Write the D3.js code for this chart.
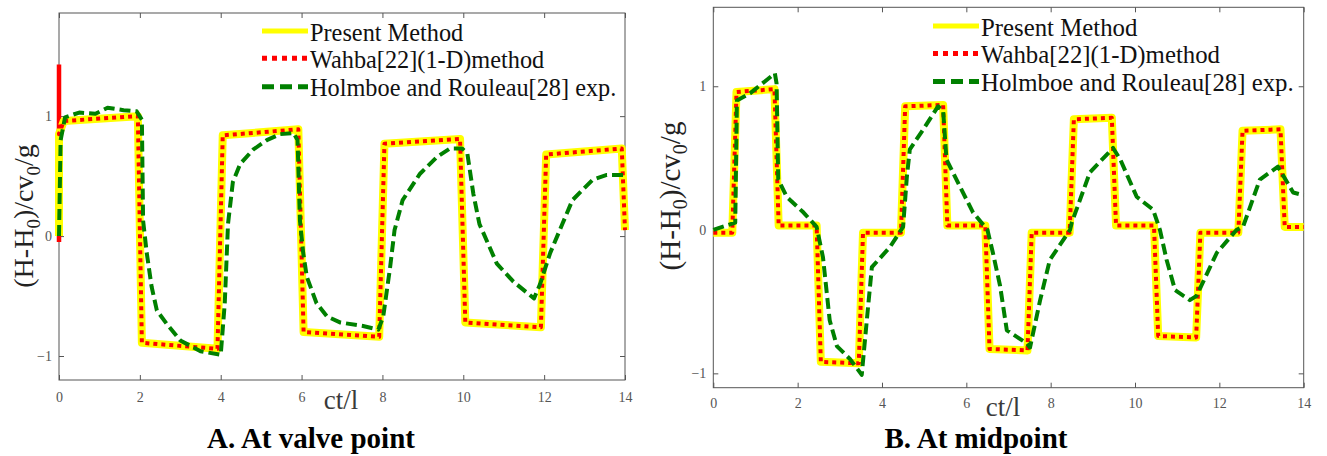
<!DOCTYPE html>
<html>
<head>
<meta charset="utf-8">
<script src="https://cdn.jsdelivr.net/npm/d3@7"></script>
<style>
  html, body { margin: 0; padding: 0; background: #fff; }
  svg { display: block; font-family: "Liberation Serif", "Times New Roman", serif; }
</style>
</head>
<body>
<svg id="chart" width="1327" height="456"></svg>
<script>
// ---- data: dimensionless head (H-H0)/(c v0/g) against time ct/l ----
const xTickValues = [0, 2, 4, 6, 8, 10, 12, 14];
const yTickValues = [-1, 0, 1];
const seriesNames = ["Present Method", "Wahba[22](1-D)method", "Holmboe and Rouleau[28] exp."];
const panelTitles = ["A. At valve point", "B. At midpoint"];

// At valve point
const valvePresent = [[0,0],[0,0.85],[0.12,0.96],[1.95,1.0],[2.05,-0.89],[3.92,-0.94],[4.05,0.84],[5.92,0.89],
  [6.05,-0.8],[7.92,-0.84],[8.05,0.77],[9.92,0.81],[10.05,-0.72],[11.92,-0.76],[12.05,0.68],[13.92,0.73],[14,0.05]];
// initial pressure spike of the 1-D solution at the closing valve
const valveWahbaSpike = [[0,-0.05],[0,1.43],[0,0.93]];
const valveWahba = [[0,0.93],[0,0.85],[0.12,0.96],[1.95,1.0],[2.05,-0.89],[3.92,-0.94],[4.05,0.84],[5.92,0.89],
  [6.05,-0.8],[7.92,-0.84],[8.05,0.77],[9.92,0.81],[10.05,-0.72],[11.92,-0.76],[12.05,0.68],[13.92,0.73],[14,0.05]];
const valveExp = [[0,0],[0.04,0.8],[0.15,0.99],[0.5,1.03],[0.9,1.02],[1.2,1.07],[1.6,1.05],[1.92,1.04],[2.05,0.97],
  [2.08,0.13],[2.17,-0.14],[2.29,-0.42],[2.42,-0.62],[2.66,-0.73],[3.0,-0.87],[3.5,-0.96],[4.0,-0.99],
  [4.1,-0.56],[4.18,0.1],[4.3,0.45],[4.48,0.6],[4.8,0.72],[5.14,0.8],[5.47,0.85],[5.8,0.86],[5.9,0.8],
  [5.96,0.13],[6.04,-0.14],[6.13,-0.34],[6.37,-0.56],[6.63,-0.67],[6.95,-0.72],[7.52,-0.75],[7.9,-0.78],
  [8.02,-0.67],[8.19,-0.26],[8.3,0.05],[8.5,0.3],[8.93,0.52],[9.35,0.66],[9.67,0.73],[9.97,0.73],[10.1,0.69],
  [10.25,0.35],[10.4,0.1],[10.83,-0.23],[11.24,-0.38],[11.75,-0.52],[11.9,-0.4],[12.15,-0.14],[12.45,0.1],
  [12.7,0.3],[13.2,0.47],[13.55,0.51],[14,0.51]];

// At midpoint
const midPresent = [[0,-0.02],[0.45,-0.02],[0.55,0.96],[1.45,0.98],[1.55,0.03],[2.45,0.03],[2.55,-0.92],[3.45,-0.93],
  [3.55,-0.02],[4.45,-0.02],[4.55,0.86],[5.45,0.87],[5.55,0.03],[6.45,0.03],[6.55,-0.83],[7.45,-0.84],
  [7.55,-0.02],[8.45,-0.02],[8.55,0.77],[9.45,0.78],[9.55,0.03],[10.45,0.03],[10.55,-0.74],[11.45,-0.75],
  [11.55,-0.02],[12.45,-0.02],[12.55,0.69],[13.45,0.7],[13.55,0.02],[14,0.02]];
const midWahba = [[0,-0.02],[0.45,-0.02],[0.55,0.96],[1.45,0.98],[1.55,0.03],[2.45,0.03],[2.55,-0.92],[3.45,-0.93],
  [3.55,-0.02],[4.45,-0.02],[4.55,0.86],[5.45,0.87],[5.55,0.03],[6.45,0.03],[6.55,-0.83],[7.45,-0.84],
  [7.55,-0.02],[8.45,-0.02],[8.55,0.77],[9.45,0.78],[9.55,0.03],[10.45,0.03],[10.55,-0.74],[11.45,-0.75],
  [11.55,-0.02],[12.45,-0.02],[12.55,0.69],[13.45,0.7],[13.55,0.02],[14,0.02]];
const midExp = [[0,0],[0.52,0.05],[0.56,0.9],[0.87,0.95],[1.46,1.09],[1.5,1.02],[1.54,0.35],[1.74,0.23],[2.14,0.12],
  [2.45,0.02],[2.6,-0.19],[2.76,-0.63],[2.93,-0.81],[3.24,-0.9],[3.52,-1.01],[3.64,-0.63],[3.76,-0.26],
  [4.19,-0.12],[4.5,0.02],[4.59,0.37],[4.66,0.56],[4.98,0.7],[5.33,0.86],[5.45,0.83],[5.53,0.49],[5.85,0.3],
  [6.16,0.12],[6.5,0.0],[6.63,-0.16],[6.8,-0.39],[6.96,-0.7],[7.43,-0.79],[7.51,-0.82],[7.75,-0.49],
  [7.98,-0.21],[8.46,0.0],[8.5,0.05],[8.93,0.4],[9.48,0.57],[9.65,0.49],[10.04,0.23],[10.43,0.14],[10.59,0.0],
  [10.75,-0.21],[10.95,-0.42],[11.3,-0.49],[11.46,-0.46],[11.94,-0.16],[12.41,0.0],[12.56,0.02],[12.96,0.35],
  [13.39,0.44],[13.75,0.26],[14,0.24]];

// ---- layout of the two panels ----
const panels = [
  { x0: 59, x1: 625, y0: 380, y1: 13, yDomain: [-1.2, 1.86], data: [valvePresent, valveWahba, valveExp],
    spike: valveWahbaSpike,
    title: panelTitles[0], titleX: 311, titleY: 448,
    xLabelX: 341, xLabelY: 409, yLabelX: 33, yLabelY: 216, yLabelSize: 28, xPad: 12,
    legendX: 262, legendY: [31, 58.3, 86.7], legendSize: 24.3 },
  { x0: 713.3, x1: 1303.7, y0: 387.7, y1: 7.3, yDomain: [-1.1, 1.55], data: [midPresent, midWahba, midExp],
    spike: null,
    title: panelTitles[1], titleX: 976, titleY: 448,
    xLabelX: 1003, xLabelY: 416, yLabelX: 680, yLabelY: 196, yLabelSize: 29, xPad: 10,
    legendX: 933, legendY: [26, 53.5, 81.5], legendSize: 24.8 }
];

const styles = [
  { color: "#ffff00", width: 8, dash: null, legendWidth: 5, legendDash: null },
  { color: "#ff0000", width: 4, dash: "4,4", legendWidth: 5, legendDash: "5,5" },
  { color: "#008000", width: 4, dash: "11,5", legendWidth: 5, legendDash: "12,6" }
];

const svg = d3.select("#chart");

panels.forEach(p => {
  const x = d3.scaleLinear().domain([0, 14]).range([p.x0, p.x1]);
  const y = d3.scaleLinear().domain(p.yDomain).range([p.y0, p.y1]);
  const g = svg.append("g");

  // frame
  g.append("rect")
    .attr("x", p.x0).attr("y", p.y1)
    .attr("width", p.x1 - p.x0).attr("height", p.y0 - p.y1)
    .attr("fill", "none").attr("stroke", "#555").attr("stroke-width", 1);

  const styleAxis = (sel, withText) => {
    sel.attr("font-family", null).attr("font-size", null);
    sel.select(".domain").remove();
    sel.selectAll(".tick line").attr("stroke", "#555");
    sel.selectAll(".tick text")
      .attr("fill", "#555")
      .attr("font-size", 14)
      .attr("font-family", "Liberation Serif, serif");
    if (!withText) sel.selectAll(".tick text").remove();
  };

  g.append("g").attr("transform", `translate(0,${p.y0})`)
    .call(d3.axisBottom(x).tickValues(xTickValues).tickSizeInner(-5).tickSizeOuter(0).tickPadding(p.xPad).tickFormat(d3.format("d")))
    .call(s => styleAxis(s, true));
  g.append("g").attr("transform", `translate(0,${p.y1})`)
    .call(d3.axisTop(x).tickValues(xTickValues).tickSizeInner(-5).tickSizeOuter(0))
    .call(s => styleAxis(s, false));
  g.append("g").attr("transform", `translate(${p.x0},0)`)
    .call(d3.axisLeft(y).tickValues(yTickValues).tickSizeInner(-5).tickSizeOuter(0).tickPadding(7).tickFormat(d3.format("d")))
    .call(s => styleAxis(s, true));
  g.append("g").attr("transform", `translate(${p.x1},0)`)
    .call(d3.axisRight(y).tickValues(yTickValues).tickSizeInner(-5).tickSizeOuter(0))
    .call(s => styleAxis(s, false));

  // curves
  const line = d3.line().x(d => x(d[0])).y(d => y(d[1]));
  if (p.spike) {
    g.append("path")
      .datum(p.spike)
      .attr("d", line)
      .attr("fill", "none")
      .attr("stroke", styles[1].color)
      .attr("stroke-width", 4.5);
  }
  p.data.forEach((series, i) => {
    const st = styles[i];
    g.append("path")
      .datum(series)
      .attr("d", line)
      .attr("fill", "none")
      .attr("stroke", st.color)
      .attr("stroke-width", st.width)
      .attr("stroke-linejoin", "round")
      .attr("stroke-dasharray", st.dash);
  });

  // legend
  seriesNames.forEach((name, i) => {
    const st = styles[i];
    const ly = p.legendY[i];
    g.append("line")
      .attr("x1", p.legendX).attr("x2", p.legendX + 46)
      .attr("y1", ly).attr("y2", ly)
      .attr("stroke", st.color)
      .attr("stroke-width", st.legendWidth)
      .attr("stroke-dasharray", st.legendDash);
    g.append("text")
      .attr("x", p.legendX + 48).attr("y", ly + 9.5)
      .attr("font-size", p.legendSize)
      .attr("fill", "#111")
      .text(name);
  });

  // x-axis label
  g.append("text")
    .attr("x", p.xLabelX).attr("y", p.xLabelY)
    .attr("text-anchor", "middle")
    .attr("font-size", 27)
    .attr("fill", "#3a3a3a")
    .text("ct/l");

  // y-axis label with subscripts
  const yl = g.append("text")
    .attr("transform", `translate(${p.yLabelX},${p.yLabelY}) rotate(-90)`)
    .attr("text-anchor", "middle")
    .attr("font-size", p.yLabelSize)
    .attr("fill", "#222");
  const subSize = Math.round(p.yLabelSize * 0.68);
  yl.append("tspan").text("(H-H");
  yl.append("tspan").attr("font-size", subSize).attr("dy", p.yLabelSize * 0.25).text("0");
  yl.append("tspan").attr("dy", -p.yLabelSize * 0.25).text(")/cv");
  yl.append("tspan").attr("font-size", subSize).attr("dy", p.yLabelSize * 0.25).text("0");
  yl.append("tspan").attr("dy", -p.yLabelSize * 0.25).text("/g");

  // panel caption
  g.append("text")
    .attr("x", p.titleX).attr("y", p.titleY)
    .attr("text-anchor", "middle")
    .attr("font-size", 29)
    .attr("font-weight", "bold")
    .attr("fill", "#000")
    .text(p.title);
});
</script>
</body>
</html>
